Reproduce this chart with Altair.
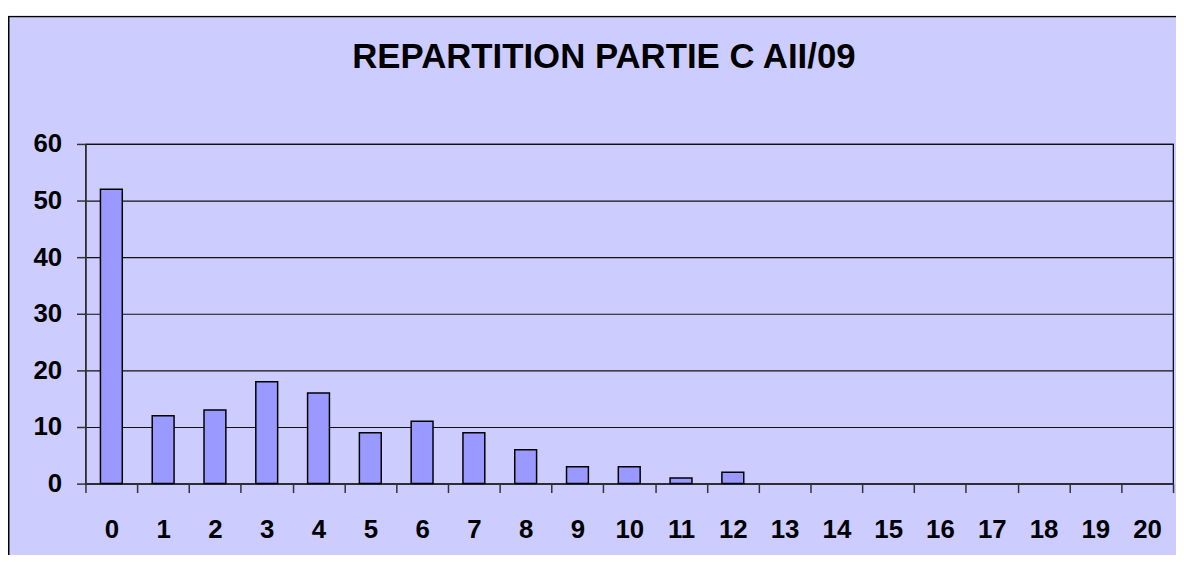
import altair as alt
import pandas as pd

notes = [str(i) for i in range(21)]
counts = [52, 12, 13, 18, 16, 9, 11, 9, 6, 3, 3, 1, 2, 0, 0, 0, 0, 0, 0, 0, 0]
y_ticks = [0, 10, 20, 30, 40, 50, 60]
title_text = "REPARTITION PARTIE C AII/09"

df = pd.DataFrame({"note": notes, "n": counts})

FONT = "Liberation Sans"

bars = alt.Chart(df).mark_bar(
    size=22, fill="#9999FF", stroke="black", strokeWidth=1.5
).encode(
    x=alt.X("note:N", sort=notes, title=None,
            scale=alt.Scale(domain=notes, paddingInner=0, paddingOuter=0),
            axis=alt.Axis(labelAngle=0, tickBand="extent", tickSize=9,
                          labelPadding=24, labelFontSize=26, labelFontWeight="bold",
                          labelFont=FONT, labelColor="black", tickColor="#333333",
                          domainColor="#333333", domainWidth=1.5, tickWidth=1.5,
                          grid=False)),
    y=alt.Y("n:Q", title=None,
            scale=alt.Scale(domain=[0, 60], nice=False),
            axis=alt.Axis(values=y_ticks, tickSize=9, labelPadding=15,
                          labelFontSize=26, labelFontWeight="bold", labelFont=FONT,
                          labelColor="black", tickColor="#333333", tickWidth=1.5,
                          domainColor="#333333", domainWidth=1.5,
                          grid=True, gridColor="#111111", gridWidth=1.2)),
).transform_filter("datum.n > 0")

one = pd.DataFrame({"k": [0]})

border = alt.Chart(one).mark_rect(
    fillOpacity=0, stroke="black", strokeWidth=1.5
).encode(
    x=alt.value(-77.25), x2=alt.value(1200),
    y=alt.value(-128.25), y2=alt.value(500),
)

strip = alt.Chart(one).mark_rect(fill="white").encode(
    x=alt.value(-80), x2=alt.value(1200),
    y=alt.value(-137), y2=alt.value(-129),
)

chart = alt.layer(bars, border, strip).properties(
    width=1095, height=342,
    padding={"left": 78, "top": 135, "right": 3, "bottom": 70},
    autosize=alt.AutoSizeParams(type="none"),
    title=alt.TitleParams(title_text, font=FONT, fontSize=35, fontWeight="bold",
                          color="black", anchor="middle", frame="group",
                          dx=-25.5, offset=-67.5),
).configure(
    background="#CCCCFF",
).configure_view(
    stroke="black", strokeWidth=1.2,
)

chart.save("out.html", embed_options={"renderer": "svg", "actions": False})
